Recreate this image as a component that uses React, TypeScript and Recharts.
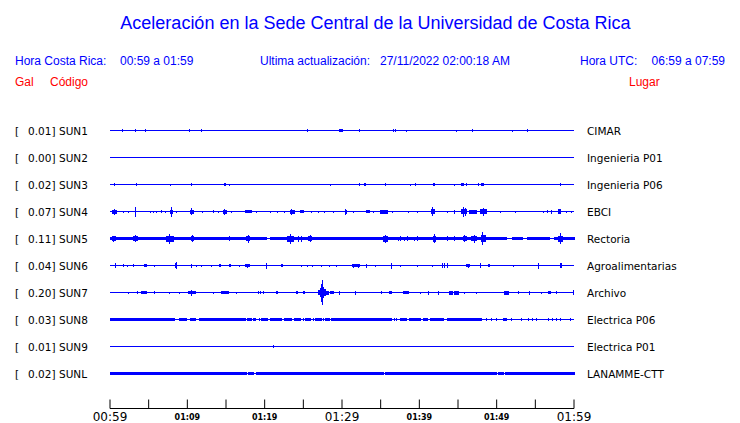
import { ComposedChart, Area, XAxis, YAxis } from 'recharts';

// [t, amp] = single spike, [t0, t1, amp] = burst; t in minutes after 00:59, amp in px
type Ev = number[];

const codes = ['SUN1', 'SUN2', 'SUN3', 'SUN4', 'SUN5', 'SUN6', 'SUN7', 'SUN8', 'SUN9', 'SUNL'];
const peaks = ['0.01', '0.00', '0.02', '0.07', '0.11', '0.04', '0.20', '0.03', '0.01', '0.02'];
const places = ['CIMAR', 'Ingenieria P01', 'Ingenieria P06', 'EBCI', 'Rectoria', 'Agroalimentarias', 'Archivo', 'Electrica P06', 'Electrica P01', 'LANAMME-CTT'];

const timeTicks = [0, 5, 10, 15, 20, 25, 30, 35, 40, 45, 50, 55, 60];
const timeLabels: Record<number, string> = { 0: '00:59', 10: '01:09', 20: '01:19', 30: '01:29', 40: '01:39', 50: '01:49', 60: '01:59' };
const bigLabels = [0, 30, 60];

const sun1: Ev[] = [[1.6, 1.5], [3.3, 1.5], [4.6, 1.5], [10.3, 1.5], [11.8, 1.5], [25.6, 1.5], [29.65, 30.0, 1], [32.2, 1.5], [36.6, 1.5], [36.9, 1.5], [38.3, 1], [44.8, 1], [46.9, 1.5], [52.0, 1], [54.0, 1.5]];
const sun2: Ev[] = [];
const sun3: Ev[] = [[0.6, 1.5], [3.4, 1.5], [7.8, 1], [10.6, 1.5], [14.8, 14.95, 1], [15.4, 1], [28.5, 1], [32.2, 1.5], [32.9, 33.1, 1], [35.6, 1.5], [38.8, 1], [39.5, 1.5], [41.8, 42.0, 1], [44.5, 1], [45.5, 45.75, 1], [46.1, 1.5], [47.7, 1.5], [48.0, 48.3, 1], [58.2, 1.5]];
const sun4: Ev[] = [[0.35, 0.87, 1.5], [0.6, 3], [1.7, 1], [2.4, 1], [3.36, 5], [5.2, 1], [5.6, 1], [6.0, 1], [6.7, 1.5], [7.2, 1], [7.76, 7.9, 1.5], [7.95, 5], [8.0, 8.11, 1.5], [8.6, 1], [10.35, 10.5, 1.5], [10.55, 3.5], [10.6, 10.77, 1.5], [11.9, 1], [13.4, 1.5], [14.0, 1], [14.74, 15.0, 1.5], [14.85, 3], [15.7, 1], [17.46, 18.3, 1.2], [19.0, 1], [20.7, 1], [21.6, 1], [22.5, 1], [23.28, 23.92, 1.5], [23.5, 3], [24.57, 24.96, 1.2], [26.0, 1], [26.9, 1], [27.8, 1], [28.9, 1], [30.39, 30.61, 1.5], [30.5, 3], [31.5, 1], [33.2, 33.62, 1.2], [34.05, 1], [35.04, 35.86, 1.5], [36.56, 1], [38.58, 1], [39.74, 1], [41.6, 41.7, 2], [41.75, 4.5], [41.8, 41.9, 2], [43.67, 1], [44.61, 2], [45.48, 45.7, 2], [45.75, 5], [45.8, 46.13, 2], [46.0, 4], [46.55, 47.42, 1.5], [47.85, 48.2, 2], [48.3, 4], [48.4, 48.71, 2], [50.52, 1], [52.46, 1], [56.03, 1], [56.6, 1.5], [57.12, 2], [57.97, 58.19, 2], [59.05, 1], [59.7, 1]];
const sun5Noise: Ev[] = [[0, 20.3, 1], [20.8, 51.3, 1], [51.3, 52.0, 0.4], [52.0, 53.3, 0.9], [53.3, 54.0, 0.4], [54.0, 56.8, 0.9], [56.8, 57.5, 0.4], [57.5, 60, 1]];
const sun5Bursts: Ev[] = [[0.3, 0.65, 2], [0.5, 3], [3.1, 3.5, 2], [3.3, 3.5], [7.3, 7.6, 2.5], [7.7, 5], [7.8, 8.2, 2.5], [10.5, 10.8, 2], [10.65, 3.5], [15.5, 2.5], [17.7, 18.0, 2], [17.85, 4], [23.0, 23.25, 2.5], [23.3, 5], [23.35, 23.7, 2.5], [24.35, 3], [24.8, 3], [25.7, 26.1, 2], [25.9, 3.5], [35.35, 35.9, 2.5], [35.6, 4], [37.3, 2], [37.5, 2.5], [38.1, 2], [38.5, 2.5], [39.4, 2], [39.7, 2.5], [41.8, 42.1, 2.5], [41.95, 4.5], [43.7, 2.5], [44.6, 2.5], [45.7, 46.1, 2], [45.9, 3.5], [46.8, 47.4, 2], [47.1, 4], [48.0, 48.15, 3], [48.2, 6.5], [48.25, 48.5, 3], [58.0, 58.15, 2.5], [58.2, 5.5], [58.25, 58.5, 2.5]];
const sun6: Ev[] = [[0.65, 2.5], [1.7, 1.5], [2.3, 1], [3.0, 1.5], [4.5, 4.7, 1.2], [5.8, 1], [8.5, 8.6, 2], [8.55, 3.5], [10.6, 2], [11.2, 1], [11.85, 1], [13.1, 1], [14.2, 14.3, 1.2], [15.5, 15.6, 1.2], [16.8, 1], [17.55, 18.0, 1], [17.8, 2], [20.3, 3], [22.2, 22.3, 1.2], [24.8, 1], [25.6, 1], [26.2, 1], [27.3, 1], [28.4, 1], [29.3, 1], [31.3, 32.3, 1], [31.5, 2], [32.1, 2], [33.2, 2], [34.3, 1], [36.4, 3], [37.6, 1], [39.7, 1], [41.7, 1], [43.0, 2.5], [43.3, 2.5], [43.6, 2.5], [46.1, 46.55, 1], [46.3, 2], [47.85, 2.5], [49.0, 49.1, 1.2], [52.15, 1], [55.4, 3], [58.3, 58.4, 2]];
const sun7: Ev[] = [[2.45, 1], [3.5, 1.5], [4.1, 4.7, 1.2], [5.7, 5.8, 1.2], [7.75, 1], [9.05, 1], [10.1, 10.4, 1.2], [10.5, 3], [10.6, 11.0, 1.2], [13.4, 1], [14.4, 15.3, 1.2], [16.4, 1], [19.2, 1.5], [19.5, 1.5], [19.8, 1.5], [21.5, 21.6, 1.2], [24.1, 24.2, 1.2], [25.0, 25.1, 1.2], [26.9, 27.15, 2], [27.2, 27.3, 4], [27.35, 9], [27.42, 12.5], [27.48, 11], [27.52, 27.65, 5], [27.7, 27.9, 3], [27.95, 28.2, 1.5], [28.45, 28.85, 1.2], [29.7, 2], [31.8, 2], [35.05, 1.5], [36.1, 36.4, 1.2], [37.9, 38.55, 1.2], [40.1, 1], [41.15, 2], [42.45, 2], [43.9, 44.3, 1.5], [44.6, 45.0, 1.5], [45.9, 1], [47.4, 1], [50.95, 51.5, 1.5], [52.8, 1.5], [54.3, 2], [55.8, 1], [56.7, 56.9, 1.2], [57.8, 1.5], [59.9, 2.5]];
const sun8: Ev[] = [[0, 8.4, 0.9], [9.05, 9.9, 0.9], [10.35, 11.0, 0.9], [11.6, 17.5, 0.9], [17.8, 18.3, 0.9], [18.5, 18.8, 0.9], [19.3, 1.5], [19.6, 20.4, 0.9], [20.7, 22.2, 0.9], [22.6, 23.5, 0.9], [23.8, 24.6, 0.9], [25.0, 1.5], [25.3, 25.9, 0.9], [26.3, 1.5], [26.6, 27.3, 0.9], [27.6, 1.5], [27.9, 28.4, 0.9], [28.7, 32.1, 0.9], [32.3, 34.3, 0.9], [34.5, 36.4, 0.9], [36.8, 1.5], [37.1, 1.5], [37.5, 38.4, 0.9], [38.7, 40.1, 0.9], [40.5, 41.1, 0.9], [41.5, 43.1, 0.9], [43.6, 46.6, 0.9], [46.8, 48.1, 0.9], [48.7, 1.5], [49.35, 1.5], [50.0, 1.5], [50.9, 51.3, 0.9], [51.9, 1.5], [53.2, 1.5], [54.1, 1.5], [54.6, 1.5], [55.1, 1.5], [56.7, 1.5], [57.2, 1.5], [57.7, 1.5], [58.2, 1.5], [59.5, 1.5]];
const sun9: Ev[] = [[21.1, 1.5]];
const sunl: Ev[] = [[0, 17.6, 0.9], [17.9, 18.6, 0.7], [19.0, 35.4, 0.9], [35.6, 50.0, 0.9], [50.3, 50.9, 0.7], [51.2, 51.6, 0.7], [51.8, 60, 0.9]];

const traceSets: Ev[][][] = [[sun1], [sun2], [sun3], [sun4], [sun5Noise, sun5Bursts], [sun6], [sun7], [sun8], [sun9], [sunl]];

const SPACING = 27;
const bases = codes.map((_, i) => SPACING * (codes.length - i));

const BLUE = '#0000ff';

function buildTrace(events: Ev[], base: number) {
  const pts: { t: number; r: number[] }[] = [{ t: 0, r: [base, base] }];
  for (const ev of events) {
    const [t0, t1, a] = ev.length === 2 ? [ev[0], ev[0], ev[1]] : ev;
    pts.push({ t: t0, r: [base, base] });
    pts.push({ t: t0, r: [base - a, base + a] });
    pts.push({ t: t1, r: [base - a, base + a] });
    pts.push({ t: t1, r: [base, base] });
  }
  pts.push({ t: 60, r: [base, base] });
  return pts;
}

const TraceLabels = (props: any) => {
  const { y, payload } = props;
  const i = bases.indexOf(payload.value);
  if (i < 0) return null;
  const style = { fontFamily: 'DejaVu Sans', fontSize: 10.5, fill: '#000' };
  return (
    <g>
      <text x={15} y={y + 4} {...style}>[</text>
      <text x={28} y={y + 4} {...style}>{peaks[i]}]</text>
      <text x={59} y={y + 4} {...style}>{codes[i]}</text>
      <text x={587} y={y + 4} {...style}>{places[i]}</text>
    </g>
  );
};

const TimeTick = (props: any) => {
  const { x, y, payload } = props;
  const v = payload.value;
  const label = timeLabels[v];
  const big = bigLabels.includes(v);
  return (
    <g>
      <line x1={x} x2={x} y1={y - 9} y2={y} stroke="#000" strokeWidth={1} />
      {label && (
        <text
          x={x}
          y={big ? y + 12 : y + 11}
          textAnchor="middle"
          fontFamily="DejaVu Sans"
          fontWeight={big ? 'normal' : 'bold'}
          fontSize={big ? 12 : 8}
          fill="#000"
        >
          {label}
        </text>
      )}
    </g>
  );
};

export default function App() {
  const head = { fontFamily: 'Liberation Sans, Arial, sans-serif', fontSize: 12 };
  return (
    <div style={{ position: 'absolute', left: 0, top: 0, width: 740, height: 423, background: '#fff' }}>
      <style>{'.recharts-area path { shape-rendering: crispEdges; }'}</style>
      <svg width={740} height={100} style={{ position: 'absolute', left: 0, top: 0 }}>
        <text x={375.5} y={29} textAnchor="middle" fontFamily="Liberation Sans, Arial, sans-serif" fontSize={18} fill={BLUE}>
          Aceleración en la Sede Central de la Universidad de Costa Rica
        </text>
        <text x={15} y={65} fill={BLUE} {...head}>Hora Costa Rica:</text>
        <text x={120} y={65} fill={BLUE} {...head}>00:59 a 01:59</text>
        <text x={260} y={65} fill={BLUE} {...head}>Ultima actualización:</text>
        <text x={380} y={65} fill={BLUE} {...head}>27/11/2022 02:00:18 AM</text>
        <text x={580} y={65} fill={BLUE} {...head}>Hora UTC:</text>
        <text x={725} y={65} textAnchor="end" fill={BLUE} {...head}>06:59 a 07:59</text>
        <text x={15} y={86} fill="#ff0000" {...head}>Gal</text>
        <text x={50} y={86} fill="#ff0000" {...head}>Código</text>
        <text x={629} y={86} fill="#ff0000" {...head}>Lugar</text>
      </svg>
      <div style={{ position: 'absolute', left: 0, top: 0 }}>
        <ComposedChart width={740} height={423} margin={{ top: 103.5, right: 166, bottom: 0, left: 0 }}>
          <XAxis
            type="number"
            dataKey="t"
            domain={[0, 60]}
            ticks={timeTicks}
            interval={0}
            tick={<TimeTick />}
            tickLine={false}
            tickSize={0}
            tickMargin={0}
            height={14.5}
            axisLine={{ stroke: '#000', strokeWidth: 1 }}
          />
          <YAxis
            type="number"
            domain={[-8, 297]}
            ticks={bases}
            interval={0}
            width={110}
            axisLine={false}
            tickLine={false}
            tick={<TraceLabels />}
          />
          {traceSets.map((sets, i) =>
            sets.map((events, k) => (
              <Area
                key={`${codes[i]}-${k}`}
                data={buildTrace(events, bases[i])}
                dataKey="r"
                type="linear"
                stroke={BLUE}
                strokeWidth={1}
                fill={BLUE}
                fillOpacity={1}
                dot={false}
                activeDot={false}
                isAnimationActive={false}
              />
            ))
          )}
        </ComposedChart>
      </div>
    </div>
  );
}
